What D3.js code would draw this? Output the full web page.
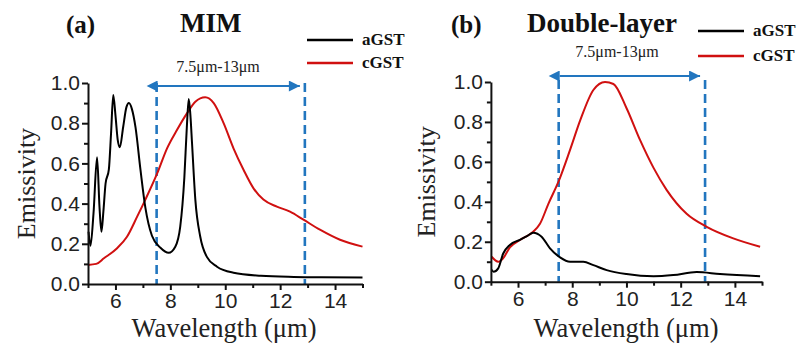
<!DOCTYPE html>
<html>
<head>
<meta charset="utf-8">
<script src="https://cdn.jsdelivr.net/npm/d3@7"></script>
<style>
  body { margin: 0; background: #fff; }
  svg { display: block; }
</style>
</head>
<body>
<svg id="chart"></svg>
<script>
// panel (a) MIM - wavelength (um) and emissivity
const mimAWl = [5.02, 5.09, 5.2, 5.33, 5.42, 5.49, 5.56, 5.64, 5.76, 5.84, 5.92, 6.0, 6.08, 6.16, 6.28, 6.4, 6.49, 6.6, 6.73, 6.91, 7.09, 7.33, 7.64, 7.94, 8.18, 8.36, 8.51, 8.6, 8.67, 8.73, 8.79, 8.91, 9.09, 9.33, 9.7, 10.3, 11.3, 12.5, 13.5, 15];
const mimAVal = [0.26, 0.19, 0.35, 0.63, 0.38, 0.26, 0.36, 0.5, 0.57, 0.75, 0.94, 0.84, 0.72, 0.68, 0.78, 0.88, 0.9, 0.87, 0.78, 0.57, 0.38, 0.24, 0.18, 0.155, 0.185, 0.285, 0.53, 0.78, 0.92, 0.84, 0.7, 0.42, 0.235, 0.135, 0.086, 0.056, 0.041, 0.035, 0.033, 0.032];
const mimCWl = [5.0, 5.3, 5.58, 6.06, 6.42, 6.79, 7.09, 7.52, 7.88, 8.24, 8.61, 8.91, 9.27, 9.58, 9.94, 10.3, 10.67, 11.03, 11.39, 11.88, 12.36, 12.85, 13.45, 14.18, 15];
const mimCVal = [0.095, 0.1, 0.128, 0.178, 0.235, 0.335, 0.42, 0.55, 0.675, 0.766, 0.85, 0.907, 0.929, 0.9, 0.8, 0.675, 0.567, 0.476, 0.42, 0.385, 0.36, 0.32, 0.27, 0.22, 0.186];

// panel (b) Double-layer
const dblAWl = [5.03, 5.1, 5.27, 5.45, 5.7, 6.07, 6.35, 6.56, 6.87, 7.18, 7.55, 7.92, 8.41, 8.78, 9.27, 10.0, 11.0, 11.73, 12.59, 13.45, 14.93];
const dblAVal = [0.06, 0.05, 0.067, 0.14, 0.184, 0.21, 0.23, 0.245, 0.225, 0.167, 0.122, 0.1, 0.1, 0.083, 0.058, 0.038, 0.027, 0.033, 0.048, 0.038, 0.027];
const dblCWl = [5.03, 5.27, 5.45, 5.7, 6.07, 6.56, 6.81, 7.12, 7.52, 7.92, 8.3, 8.78, 9.21, 9.52, 10.0, 10.5, 11.0, 11.48, 12.22, 12.96, 13.94, 14.93];
const dblCVal = [0.125, 0.1, 0.117, 0.172, 0.209, 0.25, 0.29, 0.39, 0.51, 0.66, 0.81, 0.96, 1.0, 0.99, 0.87, 0.71, 0.57, 0.46, 0.34, 0.275, 0.217, 0.175];

const seriesNames = ["aGST", "cGST"];
const seriesColors = ["#000000", "#d01010"];
const xTicks = [6, 8, 10, 12, 14];
const xMinor = [5, 7, 9, 11, 13, 15];
const yTicks = [0, 0.2, 0.4, 0.6, 0.8, 1.0];
const yMinor = [0.1, 0.3, 0.5, 0.7, 0.9];
const bandEdges = [7.5, 12.9];
const bandLabel = "7.5μm-13μm";

const width = 799, height = 347;
const svg = d3.select("#chart").attr("width", width).attr("height", height);

const blue = "#2276bf";
const serif = "Liberation Serif, Times New Roman, serif";
const defs = svg.append("defs");
["start", "end"].forEach(k => {
  defs.append("marker")
    .attr("id", "arr-" + k)
    .attr("viewBox", "0 0 10 10")
    .attr("refX", k == "end" ? 10 : 0).attr("refY", 5)
    .attr("markerWidth", 6).attr("markerHeight", 5.5)
    .attr("orient", "auto-start-reverse")
    .append("path")
    .attr("d", "M0,0 L10,5 L0,10 z")
    .attr("fill", blue);
});

function panel(opt) {
  const x = d3.scaleLinear().domain([5, 15]).range(opt.xr);
  const y = d3.scaleLinear().domain([0, 1]).range(opt.yr);
  const g = svg.append("g");

  // dashed band edges
  bandEdges.forEach(v => {
    g.append("line")
      .attr("x1", x(v)).attr("x2", x(v))
      .attr("y1", y(opt.dashTop)).attr("y2", y(0))
      .attr("stroke", blue).attr("stroke-width", 2.6)
      .attr("stroke-dasharray", "9,5");
  });
  // double arrow
  g.append("line")
    .attr("x1", x(bandEdges[0]) + 1).attr("x2", x(bandEdges[1]) - 5)
    .attr("y1", y(opt.arrowY)).attr("y2", y(opt.arrowY))
    .attr("stroke", blue).attr("stroke-width", 2)
    .attr("marker-start", "url(#arr-start)")
    .attr("marker-end", "url(#arr-end)");
  g.append("text")
    .attr("x", opt.labelX).attr("y", opt.labelY)
    .attr("text-anchor", "middle")
    .attr("font-family", serif)
    .attr("font-size", 16)
    .attr("fill", "#222")
    .text(bandLabel);

  // curves
  const line = d3.line()
    .x(d => x(d[0])).y(d => y(d[1]))
    .curve(d3.curveMonotoneX);
  [opt.c, opt.a].forEach(s => {
    g.append("path")
      .datum(d3.zip(s.wl, s.val))
      .attr("d", line)
      .attr("fill", "none")
      .attr("stroke", s.color)
      .attr("stroke-width", 2);
  });

  // axes
  const tickFont = "Liberation Sans, Arial, sans-serif";
  const gx = g.append("g").attr("transform", `translate(0,${y(0)})`)
    .call(d3.axisBottom(x).tickValues(xTicks).tickSize(6).tickSizeOuter(0).tickFormat(d3.format("d")));
  g.append("g").attr("transform", `translate(0,${y(0)})`)
    .call(d3.axisBottom(x).tickValues(xMinor).tickSize(4).tickSizeOuter(0).tickFormat(""))
    .select(".domain").remove();
  const gy = g.append("g").attr("transform", `translate(${x(5)},0)`)
    .call(d3.axisLeft(y).tickValues(yTicks).tickSize(6).tickSizeOuter(0).tickFormat(d3.format(".1f")));
  g.append("g").attr("transform", `translate(${x(5)},0)`)
    .call(d3.axisLeft(y).tickValues(yMinor).tickSize(4).tickSizeOuter(0).tickFormat(""))
    .select(".domain").remove();
  g.selectAll(".domain, .tick line").attr("stroke", "#111").attr("stroke-width", 2);
  [gx, gy].forEach(a => a.selectAll("text")
    .attr("font-family", tickFont).attr("font-size", 21).attr("fill", "#222"));
  gy.selectAll("text").attr("x", -8);

  g.append("text")
    .attr("transform", `translate(${opt.yTitleX},${(y(0) + y(1)) / 2}) rotate(-90)`)
    .attr("text-anchor", "middle")
    .attr("font-family", serif)
    .attr("font-size", 26).attr("fill", "#222")
    .text("Emissivity");
  g.append("text")
    .attr("x", opt.xTitleX).attr("y", 337)
    .attr("text-anchor", "middle")
    .attr("font-family", serif)
    .attr("font-size", 26.5).attr("fill", "#222")
    .text("Wavelength (μm)");

  // titles
  g.append("text").attr("x", opt.tagX).attr("y", 33)
    .attr("font-family", serif)
    .attr("font-weight", "bold").attr("font-size", 25).attr("fill", "#111")
    .text(opt.tag);
  g.append("text").attr("x", opt.titleX).attr("y", 32)
    .attr("font-family", serif)
    .attr("font-weight", "bold").attr("font-size", 27).attr("fill", "#111")
    .text(opt.title);

  // legend
  [opt.a, opt.c].forEach((s, i) => {
    const ly = opt.legY + i * opt.legGap;
    g.append("line")
      .attr("x1", opt.legX).attr("x2", opt.legX + 46)
      .attr("y1", ly).attr("y2", ly)
      .attr("stroke", s.color).attr("stroke-width", 2.5);
    g.append("text")
      .attr("x", opt.legX + 55).attr("y", ly + 5)
      .attr("font-family", serif)
      .attr("font-weight", "bold").attr("font-size", 17).attr("fill", "#111")
      .text(s.name);
  });
}

panel({
  xr: [88, 362.5], yr: [284, 83],
  a: { wl: mimAWl, val: mimAVal, color: seriesColors[0], name: seriesNames[0] },
  c: { wl: mimCWl, val: mimCVal, color: seriesColors[1], name: seriesNames[1] },
  dashTop: 1.0, arrowY: 0.985, labelX: 218, labelY: 72,
  yTitleX: 35, xTitleX: 224, tag: "(a)", tagX: 66, title: "MIM", titleX: 180,
  legX: 307, legY: 40, legGap: 23
});

panel({
  xr: [490.9, 762], yr: [281.7, 82],
  a: { wl: dblAWl, val: dblAVal, color: seriesColors[0], name: seriesNames[0] },
  c: { wl: dblCWl, val: dblCVal, color: seriesColors[1], name: seriesNames[1] },
  dashTop: 1.01, arrowY: 1.03, labelX: 617, labelY: 57,
  yTitleX: 435, xTitleX: 626, tag: "(b)", tagX: 451, title: "Double-layer", titleX: 527,
  legX: 698, legY: 31, legGap: 25
});
</script>
</body>
</html>
